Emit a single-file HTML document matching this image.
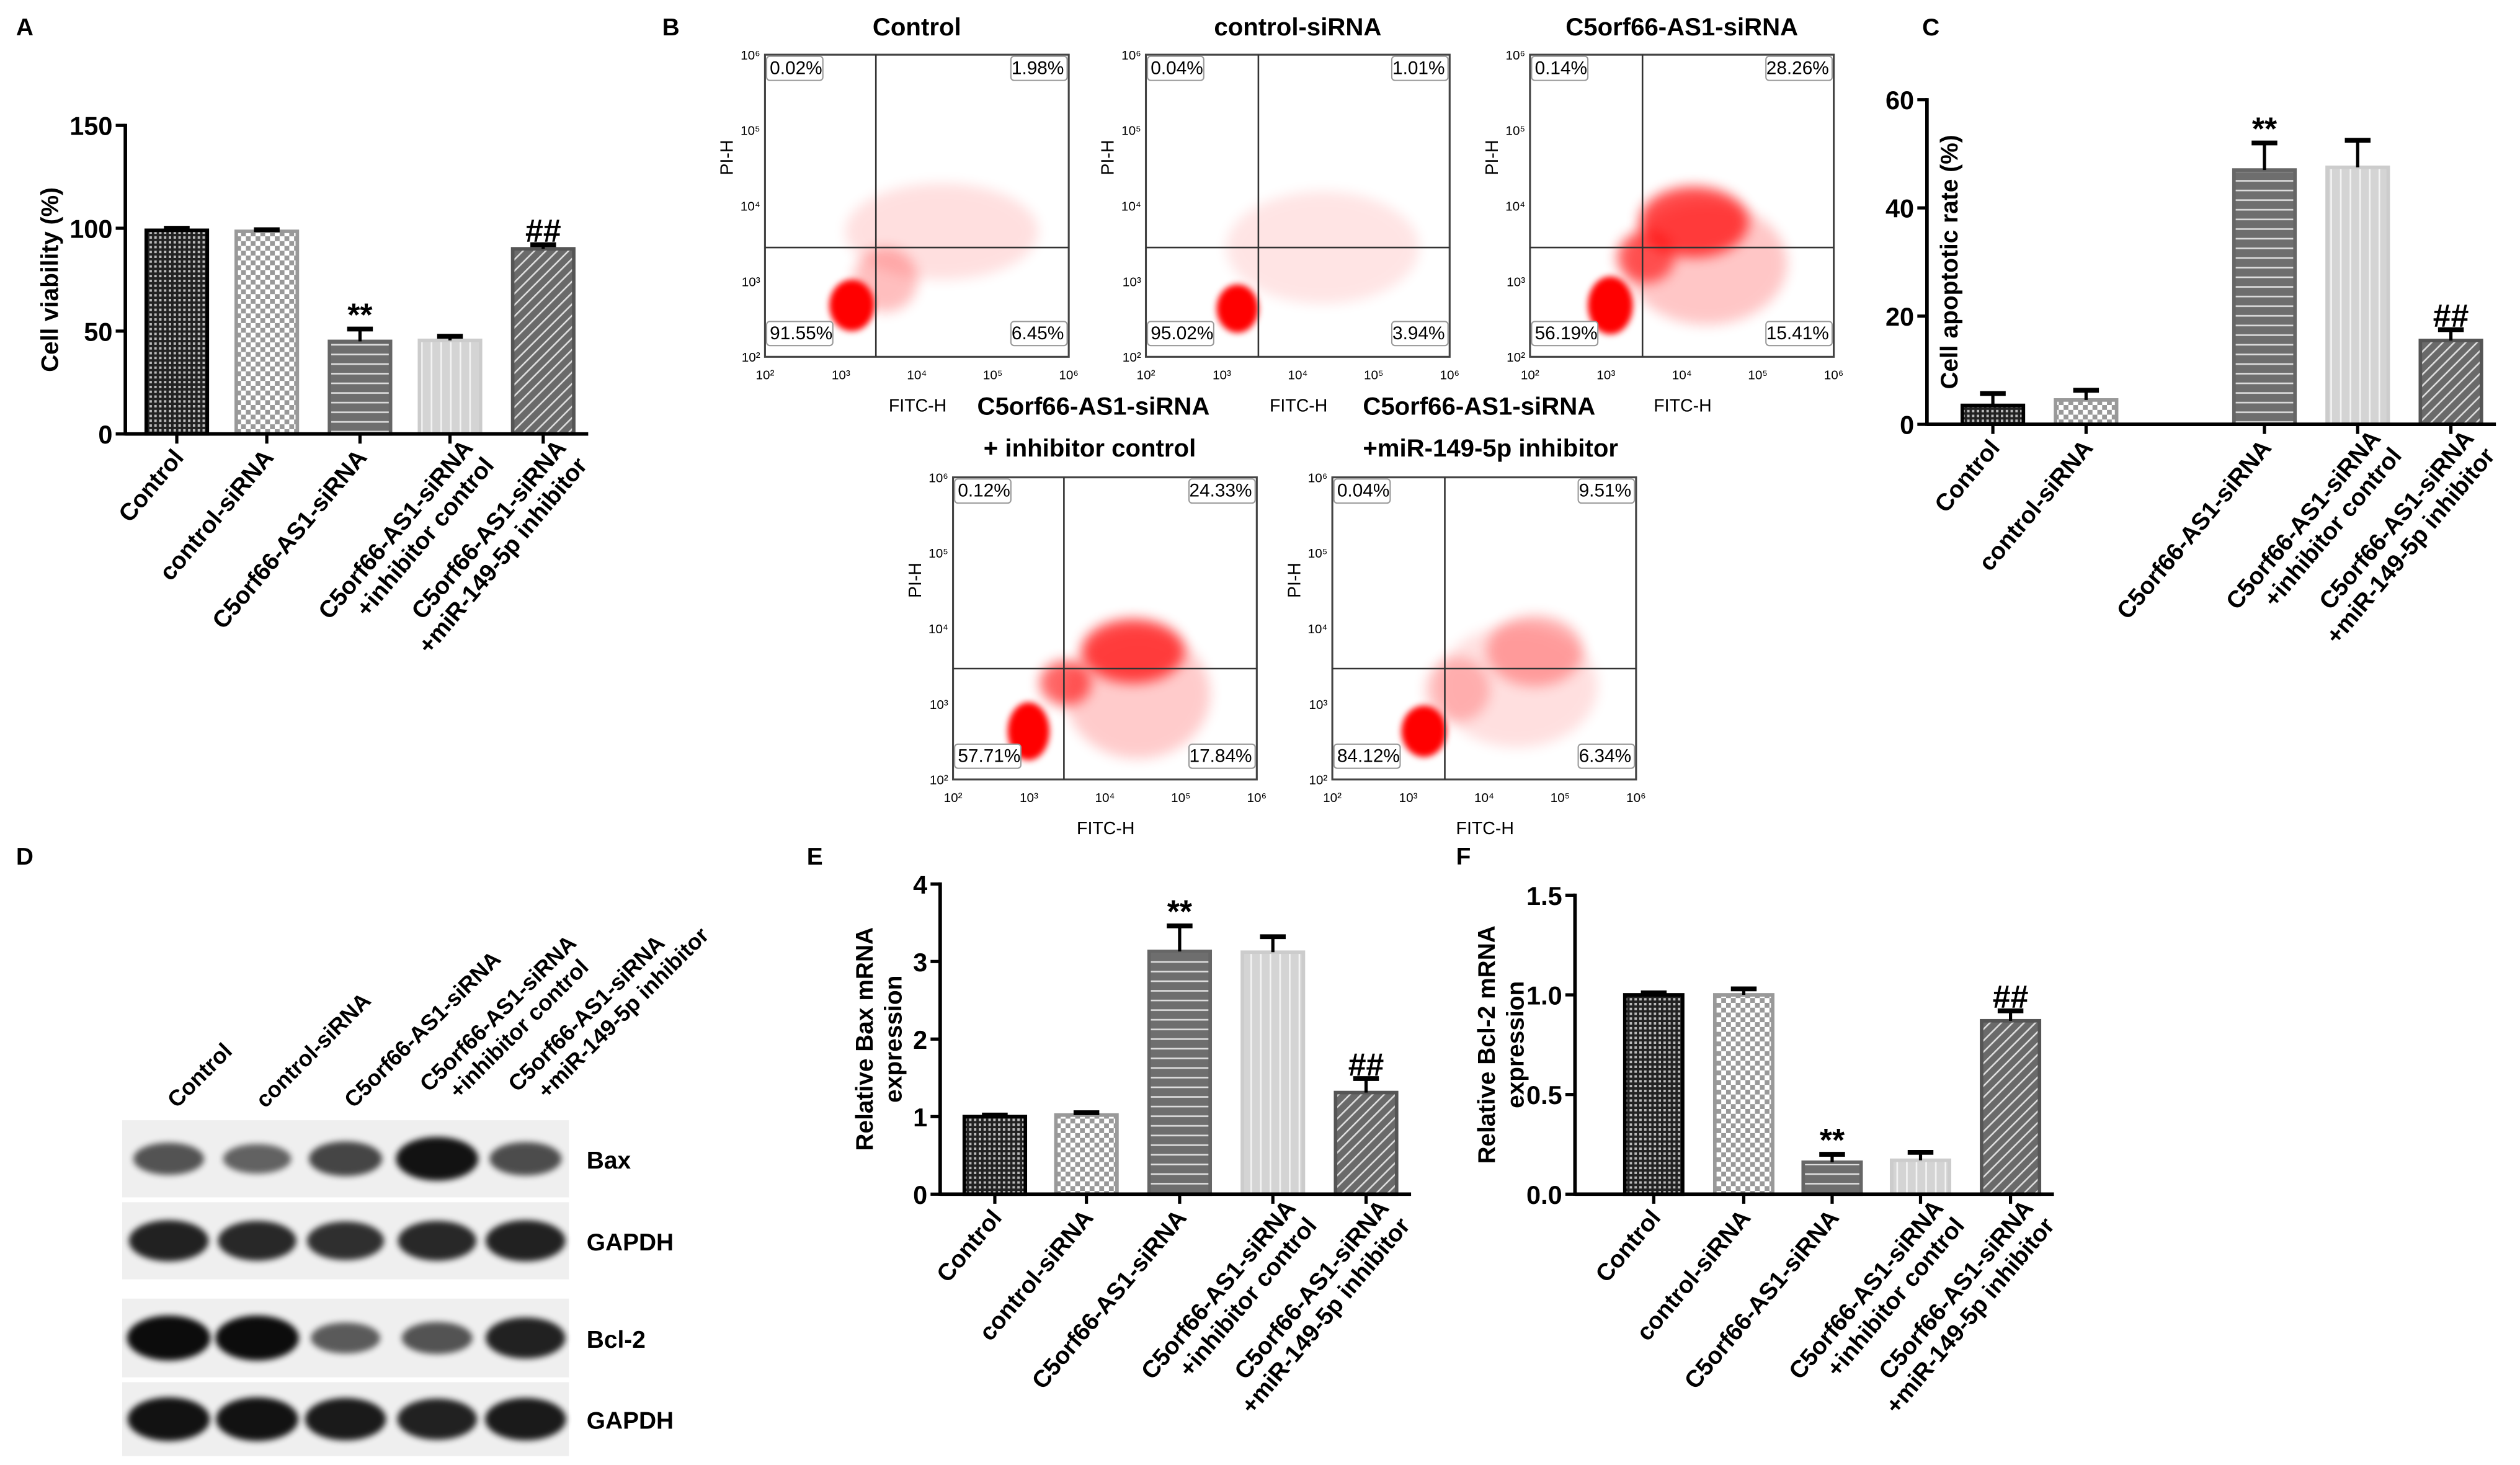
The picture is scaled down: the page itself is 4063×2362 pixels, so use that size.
<!DOCTYPE html>
<html><head><meta charset="utf-8"><style>
html,body{margin:0;padding:0;background:#fff}
svg{display:block}
text{font-family:"Liberation Sans",Arial,sans-serif}
.b{font-weight:bold}
</style></head><body>
<svg id="fig" xmlns="http://www.w3.org/2000/svg" width="4063" height="2362" viewBox="0 0 1568 911.5">
<defs>
<pattern id="pCtrl" width="3" height="3" patternUnits="userSpaceOnUse"><rect width="3" height="3" fill="#222"/><rect width="1.5" height="1.5" fill="#bbb"/></pattern>
<pattern id="pCs" width="6" height="6" patternUnits="userSpaceOnUse"><rect width="6" height="6" fill="#fff"/><rect width="3" height="3" fill="#999"/><rect x="3" y="3" width="3" height="3" fill="#999"/></pattern>
<pattern id="pAS" width="6" height="6" patternUnits="userSpaceOnUse"><rect width="6" height="6" fill="#6e6e6e"/><rect y="4" width="6" height="1" fill="#ddd"/></pattern>
<pattern id="pIC" width="6" height="6" patternUnits="userSpaceOnUse"><rect width="6" height="6" fill="#d4d4d4"/><rect x="4" width="1" height="6" fill="#f4f4f4"/></pattern>
<pattern id="pMI" width="5" height="5" patternUnits="userSpaceOnUse" patternTransform="rotate(45)"><rect width="5" height="5" fill="#6a6a6a"/><rect width="1" height="5" fill="#ddd"/></pattern>
<filter id="blur" x="-50%" y="-50%" width="200%" height="200%"><feGaussianBlur stdDeviation="4"/></filter>
<filter id="blur2" x="-50%" y="-50%" width="200%" height="200%"><feGaussianBlur stdDeviation="2"/></filter>
</defs>
<g id="root"></g>
</svg>
<script>
// ---- data arrays ----
const catA = ["Control","control-siRNA","C5orf66-AS1-siRNA","C5orf66-AS1-siRNA|+inhibitor control","C5orf66-AS1-siRNA|+miR-149-5p inhibitor"];
const valA = [99, 98.5, 45, 45.5, 90];
const errA = [1, 0.8, 6, 2, 2];
const tickA = [0, 50, 100, 150];
const valC = [3.5, 4.5, 47, 47.5, 15.5];
const errC = [2.2, 1.8, 5, 5, 2];
const tickC = [0, 20, 40, 60];
const valE = [1.0, 1.02, 3.13, 3.12, 1.31];
const errE = [0.02, 0.03, 0.33, 0.2, 0.18];
const tickE = [0, 1, 2, 3, 4];
const valF = [1.0, 1.0, 0.16, 0.17, 0.87];
const errF = [0.01, 0.03, 0.04, 0.04, 0.05];
const tickF = [0, 0.5, 1.0, 1.5];
const tickFLabels = ["0.0","0.5","1.0","1.5"];
const sigA = ["","","**","","##"];
const sigC = ["","","**","","##"];
const sigE = ["","","**","","##"];
const sigF = ["","","**","","##"];
const fcTitles = ["Control","control-siRNA","C5orf66-AS1-siRNA","C5orf66-AS1-siRNA|+ inhibitor control","C5orf66-AS1-siRNA|+miR-149-5p inhibitor"];
const fcQuad = [["0.02%","1.98%","91.55%","6.45%"],["0.04%","1.01%","95.02%","3.94%"],["0.14%","28.26%","56.19%","15.41%"],["0.12%","24.33%","57.71%","17.84%"],["0.04%","9.51%","84.12%","6.34%"]];
const blotRows = ["Bax","GAPDH","Bcl-2","GAPDH"];
const blotIntensity = [[0.5,0.4,0.6,0.95,0.55],[0.85,0.8,0.75,0.8,0.85],[1,1,0.45,0.5,0.85],[0.95,0.95,0.9,0.85,0.9]];

const NS="http://www.w3.org/2000/svg";
const root=document.getElementById('root');
function el(tag,attrs,parent,txt){const e=document.createElementNS(NS,tag);for(const k in attrs)e.setAttribute(k,attrs[k]);if(txt!==undefined)e.textContent=txt;(parent||root).appendChild(e);return e;}
const fills=["url(#pCtrl)","url(#pCs)","url(#pAS)","url(#pIC)","url(#pMI)"];
const strokes=["#000","#999","#666","#ccc","#555"];

function barChart(c){
  const g=el('g',{});
  
  
  const ys=v=>c.y0-(v-c.min)/(c.max-c.min)*(c.y0-c.y1);
  const xEnd=c.cx[c.cx.length-1]+c.bw/2+8;
  c.vals.forEach((v,i)=>{
    const x=c.cx[i]-c.bw/2, y=ys(v);
    const r=el('rect',{x:x+1,y:y,width:c.bw-2,height:c.y0-y,fill:fills[i],stroke:strokes[i],'stroke-width':2.2},g);
    
    
    const ye=ys(v+c.errs[i]);
    el('line',{x1:c.cx[i],x2:c.cx[i],y1:y,y2:ye,stroke:'#000','stroke-width':2},g);
    el('line',{x1:c.cx[i]-8,x2:c.cx[i]+8,y1:ye,y2:ye,stroke:'#000','stroke-width':3},g);
    if(c.sig[i]){const s=el('text',{x:c.cx[i],y:ye-2,'text-anchor':'middle','font-size':20,'class':'b'},g,c.sig[i]);}
    el('line',{x1:c.cx[i],x2:c.cx[i],y1:c.y0,y2:c.y0+6,stroke:'#000','stroke-width':2},g);
    const parts=catA[i].split('|');
    const lab=el('text',{transform:`translate(${c.cx[i]+5},${c.y0+15}) rotate(-50)`,'text-anchor':'end','font-size':15,'class':'b'},g);
    
    
    parts.forEach((p,k)=>{el('tspan',{x:0,dy:k?17:0},lab,p);});
    if(parts.length>1)lab.setAttribute('transform',`translate(${c.cx[i]+15},${c.y0+9}) rotate(-50)`);
  });
  el('line',{x1:c.ax,x2:c.ax,y1:c.y1-1,y2:c.y0+1,stroke:'#000','stroke-width':2.2},g);
  el('line',{x1:c.ax,x2:xEnd,y1:c.y0,y2:c.y0,stroke:'#000','stroke-width':2.2},g);
  c.ticks.forEach((t,i)=>{
    el('line',{x1:c.ax-6,x2:c.ax,y1:ys(t),y2:ys(t),stroke:'#000','stroke-width':2},g);
    const tl=el('text',{x:c.ax-8,y:ys(t)+6,'text-anchor':'end','font-size':16,'class':'b'},g,c.tlab?c.tlab[i]:String(t));
    
    
  });
  const yt=el('text',{transform:`translate(${c.titleX},${(c.y0+c.y1)/2}) rotate(-90)`,'text-anchor':'middle','font-size':15,'class':'b'},g);
  
  
  c.title.forEach((p,k)=>el('tspan',{x:0,dy:k?18:0},yt,p));
}
function letter(t,x,y){const e=el('text',{x:x,y:y,'font-size':15,'class':'b'},root,t);}
letter('A',10,22);letter('B',412,22);letter('C',1196,22);letter('D',10,538);letter('E',502,538);letter('F',906,538);

barChart({name:'chart-a-cell-viability',ax:78,y0:270,y1:78,min:0,max:150,cx:[110,166,224,280,338],bw:40,vals:valA,errs:errA,ticks:tickA,sig:sigA,title:['Cell viability (%)'],titleX:36});
barChart({name:'chart-c-apoptotic-rate',ax:1199,y0:264,y1:62,min:0,max:60,cx:[1240,1298,1409,1467,1525],bw:40,vals:valC,errs:errC,ticks:tickC,sig:sigC,title:['Cell apoptotic rate (%)'],titleX:1218});
barChart({name:'chart-e-bax-mrna',ax:585,y0:743,y1:550,min:0,max:4,cx:[619,676,734,792,850],bw:40,vals:valE,errs:errE,ticks:tickE,sig:sigE,title:['Relative Bax mRNA','expression'],titleX:543});
barChart({name:'chart-f-bcl2-mrna',ax:980,y0:743,y1:557,min:0,max:1.5,cx:[1029,1085,1140,1195,1251],bw:38,vals:valF,errs:errF,ticks:tickF,tlab:tickFLabels,sig:sigF,title:['Relative Bcl-2 mRNA','expression'],titleX:930});

// ---- flow cytometry ----
const fcBoxes=[[476,34],[713,34],[952,34],[593,297],[829,297]];
const fcGate=[[69,120],[70,120],[70,120],[69,119],[70,119]];
const fcClouds=[
 [[54,156,14,16,1],[110,110,60,30,0.12],[75,140,20,20,0.25]],
 [[57,158,13,15,1],[110,120,60,35,0.1]],
 [[50,156,14,18,1],[72,126,18,16,0.6],[102,104,34,22,0.7],[110,130,50,38,0.22]],
 [[47,158,13,18,1],[70,128,16,14,0.6],[112,108,32,20,0.7],[115,135,45,40,0.2]],
 [[57,158,14,16,1],[78,132,20,20,0.22],[126,108,30,22,0.3],[115,130,50,38,0.12]]
];
const fcTitleX=[[94.5],[94.5],[94.5],[15,19],[19,19]];
const W=189,H=188;
fcBoxes.forEach((b,i)=>{
  const g=el('g',{transform:`translate(${b[0]},${b[1]})`});
  
  
  fcClouds[i].forEach(c=>{el('ellipse',{cx:c[0],cy:c[1],rx:c[2],ry:c[3],fill:'#f00',opacity:c[4],filter:c[4]>=0.9?'url(#blur2)':'url(#blur)'},g);});
  el('rect',{x:0,y:0,width:W,height:H,fill:'none',stroke:'#444','stroke-width':1.2},g);
  el('line',{x1:fcGate[i][0],x2:fcGate[i][0],y1:0,y2:H,stroke:'#333','stroke-width':1},g);
  el('line',{x1:0,x2:W,y1:fcGate[i][1],y2:fcGate[i][1],stroke:'#333','stroke-width':1},g);
  const q=fcQuad[i];
  [[3,12,'start',q[0]],[W-3,12,'end',q[1]],[3,H-11,'start',q[2]],[W-3,H-11,'end',q[3]]].forEach(p=>{
    const w=p[3].length*6.2+4;const x=p[2]==='start'?p[0]-2:p[0]-w+2;
    el('rect',{x:x,y:p[1]-11,width:w,height:15,rx:2,fill:'#fff',stroke:'#999','stroke-width':0.8},g);
    const t=el('text',{x:p[0],y:p[1],'text-anchor':p[2],'font-size':11.5},g,p[3]);
    
    
  });
  for(let k=0;k<=4;k++){
    el('text',{x:k*W/4,y:H+14,'text-anchor':'middle','font-size':8},g,'10'+['²','³','⁴','⁵','⁶'][k]);
    el('text',{x:-3,y:H-k*H/4+3,'text-anchor':'end','font-size':8},g,'10'+['²','³','⁴','⁵','⁶'][k]);
  }
  const xt=el('text',{x:95,y:H+34,'text-anchor':'middle','font-size':11},g,'FITC-H');
  
  const yt=el('text',{transform:`translate(-20,${H/2-30}) rotate(-90)`,'text-anchor':'middle','font-size':11},g,'PI-H');
  
  const tp=fcTitles[i].split('|');
  const tt=el('text',{x:0,y:tp.length>1?-39:-12,'font-size':15.5,'class':'b'},g);
  
  tp.forEach((p,k)=>el('tspan',{x:tp.length>1?fcTitleX[i][k]:W/2,dy:k?26:0,'text-anchor':tp.length>1?'start':'middle'},tt,p));
});

// ---- western blot ----
const lanes=[105,160,215,272,327];
const rowY=[[697,745],[748,796],[808,857],[860,906]];
const bg=el('g',{});
lanes.forEach((x,i)=>{
  const t=el('text',{transform:`translate(${x+5},${690}) rotate(-45)`,'font-size':14,'class':'b'},bg);
  
  catA[i].split('|').forEach((p,k)=>el('tspan',{x:k?10:0,dy:k?16:0},t,p));
  if(catA[i].includes('|'))t.setAttribute('transform',`translate(${x-5},${680}) rotate(-45)`);
});
blotRows.forEach((name,r)=>{
  const [y0,y1]=rowY[r];
  el('rect',{x:76,y:y0,width:278,height:y1-y0,fill:'#efefef'},bg);
  blotIntensity[r].forEach((v,i)=>{
    el('ellipse',{cx:lanes[i],cy:(y0+y1)/2,rx:18+8*v,ry:6+8*v,fill:'#000',opacity:0.35+0.6*v,filter:'url(#blur2)'},bg);
  });
  const t=el('text',{x:365,y:(y0+y1)/2+6,'font-size':15,'class':'b'},bg,name);
  
});
</script>
</body></html>
